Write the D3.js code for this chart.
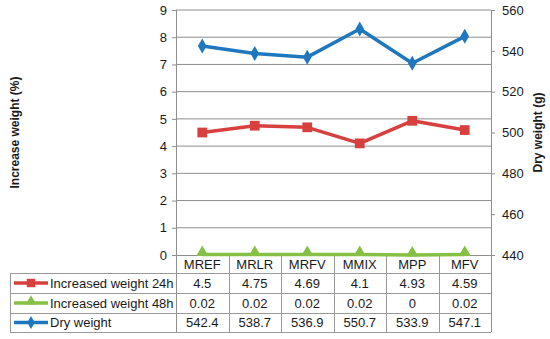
<!DOCTYPE html>
<html><head><meta charset="utf-8">
<script src="https://cdn.jsdelivr.net/npm/d3@7"></script>
<style>body{margin:0;background:#fff}svg{display:block;font-family:"Liberation Sans",Arial,sans-serif}</style>
</head><body><svg id="c" width="550" height="339"></svg>
<script>
const categories = ["MREF","MRLR","MRFV","MMIX","MPP","MFV"];
const inc24 = [4.5,4.75,4.69,4.1,4.93,4.59];
const inc48 = [0.02,0.02,0.02,0.02,0,0.02];
const dry = [542.4,538.7,536.9,550.7,533.9,547.1];
const leftTicks = [0,1,2,3,4,5,6,7,8,9];
const rightTicks = [440,460,480,500,520,540,560];
const seriesNames = ["Increased weight 24h","Increased weight 48h","Dry weight"];

const svg = d3.select("#c");
const L = 176, R = 491, T = 10, B = 255;
const x = d3.scaleBand().domain(categories).range([L, R]);
const yL = d3.scaleLinear().domain([0, 9]).range([B, T]);
const yR = d3.scaleLinear().domain([440, 560]).range([B, T]);
const grid = "#8e8e8e", tline = "#9a9a9a", txt = "#1a1a1a";

// gridlines
svg.append("g").selectAll("line").data(leftTicks.filter(d => d > 0)).join("line")
  .attr("x1", L).attr("x2", R).attr("y1", d => yL(d)).attr("y2", d => yL(d))
  .attr("stroke", grid).attr("stroke-width", 1);

// left axis
const gl = svg.append("g").attr("transform", `translate(${L},0)`)
  .call(d3.axisLeft(yL).tickValues(leftTicks).tickSize(4).tickPadding(5).tickFormat(d3.format("d")));
gl.select(".domain").remove();
gl.selectAll("line").attr("stroke", grid);
gl.selectAll("text").attr("font-size", 13).attr("fill", txt).attr("font-family", "Liberation Sans, Arial, sans-serif");

// right axis
const gr = svg.append("g").attr("transform", `translate(${R},0)`)
  .call(d3.axisRight(yR).tickValues(rightTicks).tickSize(4).tickPadding(7).tickFormat(d3.format("d")));
gr.select(".domain").remove();
gr.selectAll("line").attr("stroke", grid);
gr.selectAll("text").attr("font-size", 13).attr("fill", txt).attr("font-family", "Liberation Sans, Arial, sans-serif");

// axis lines / table frame
const rowY = [B, 273, 293, 313, 332];
svg.append("line").attr("x1", L + 0.5).attr("x2", L + 0.5).attr("y1", T).attr("y2", rowY[4]).attr("stroke", grid);
svg.append("line").attr("x1", R + 0.5).attr("x2", R + 0.5).attr("y1", T).attr("y2", rowY[4]).attr("stroke", grid);
svg.append("line").attr("x1", L).attr("x2", R).attr("y1", B + 0.5).attr("y2", B + 0.5).attr("stroke", grid);
// inner vertical lines of table
svg.append("g").selectAll("line").data(categories.slice(1)).join("line")
  .attr("x1", d => Math.round(x(d)) + 0.5).attr("x2", d => Math.round(x(d)) + 0.5)
  .attr("y1", B).attr("y2", rowY[4]).attr("stroke", tline);
// horizontal table lines
svg.append("g").selectAll("line").data(rowY.slice(1)).join("line")
  .attr("x1", 10).attr("x2", R).attr("y1", d => d + 0.5).attr("y2", d => d + 0.5).attr("stroke", tline);
svg.append("line").attr("x1", 10.5).attr("x2", 10.5).attr("y1", 273).attr("y2", 332).attr("stroke", tline);

// header labels
svg.append("g").selectAll("text").data(categories).join("text")
  .attr("x", d => x(d) + x.bandwidth() / 2).attr("y", 269)
  .attr("text-anchor", "middle").attr("font-size", 13).attr("fill", txt).text(d => d);

// lines
const colors = ["#d8403f", "#86c145", "#1f78be"];
const markers = [d3.symbolSquare, d3.symbolTriangle, d3.symbolDiamond];
const msize = [95, 65, 65];
const sets = [
  {vals: inc24, y: yL},
  {vals: inc48, y: yL},
  {vals: dry, y: yR}
];
const cx = c => x(c) + x.bandwidth() / 2;
sets.forEach((s, i) => {
  const line = d3.line().x((d, j) => cx(categories[j])).y(d => s.y(d));
  svg.append("path").datum(s.vals).attr("d", line).attr("fill", "none")
    .attr("stroke", colors[i]).attr("stroke-width", 3.5).attr("stroke-linejoin", "round");
  svg.append("g").selectAll("path").data(s.vals).join("path")
    .attr("transform", (d, j) => `translate(${cx(categories[j])},${s.y(d) - (i === 1 ? 2 : 0)})`)
    .attr("d", d3.symbol().type(markers[i]).size(msize[i])).attr("fill", colors[i]);
});

// table rows
sets.forEach((s, i) => {
  const yc = (rowY[i + 1] + rowY[i + 2]) / 2;
  svg.append("line").attr("x1", 14).attr("x2", 48).attr("y1", yc).attr("y2", yc)
    .attr("stroke", colors[i]).attr("stroke-width", 3.5);
  svg.append("path").attr("transform", `translate(31,${yc - (i === 1 ? 1.5 : 0)})`)
    .attr("d", d3.symbol().type(markers[i]).size(msize[i] * 0.75)).attr("fill", colors[i]);
  svg.append("text").attr("x", 50).attr("y", yc + 4.5).attr("font-size", 13).attr("fill", txt).text(seriesNames[i]);
  svg.append("g").selectAll("text").data(s.vals).join("text")
    .attr("x", (d, j) => cx(categories[j])).attr("y", yc + 4.5)
    .attr("text-anchor", "middle").attr("font-size", 13).attr("fill", txt).text(d => String(d));
});

// axis titles
svg.append("text").attr("transform", `translate(19,${(T + B) / 2}) rotate(-90)`)
  .attr("text-anchor", "middle").attr("font-size", 12).attr("font-weight", "bold").attr("fill", txt)
  .text("Increase weight (%)");
svg.append("text").attr("transform", `translate(542,${(T + B) / 2}) rotate(-90)`)
  .attr("text-anchor", "middle").attr("font-size", 12).attr("font-weight", "bold").attr("fill", txt)
  .text("Dry weight (g)");
</script></body></html>
